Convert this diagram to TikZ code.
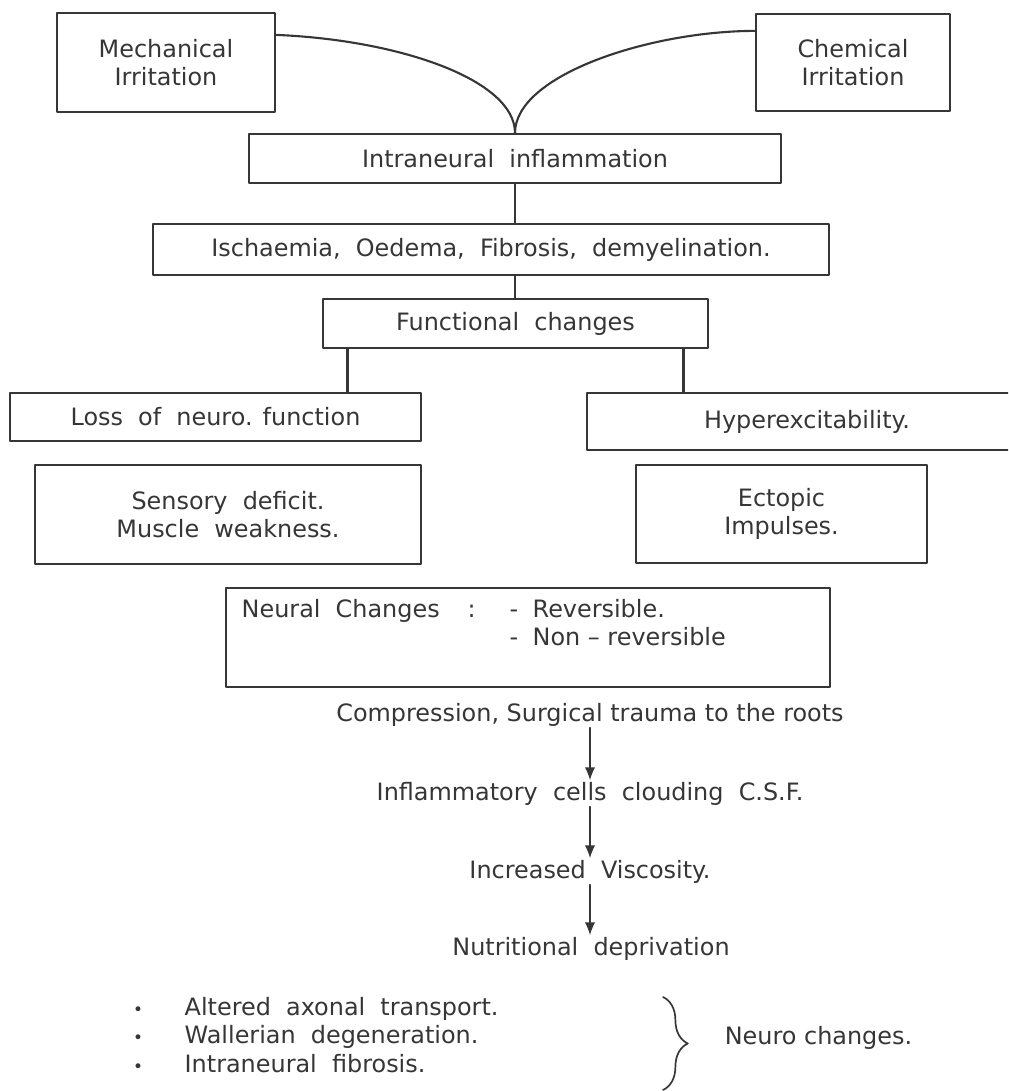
\documentclass[tikz,border=0pt]{standalone}
\usepackage{fontspec}
\setmainfont{DejaVu Sans}
\usetikzlibrary{arrows.meta,decorations.pathreplacing}
\definecolor{ink}{HTML}{363636}
\begin{document}
\begin{tikzpicture}[x=0.025cm, y=-0.025cm, line join=round, line cap=round,
	font=\fontsize{17}{20}\selectfont, text=ink,
	box/.style={draw=ink, line width=1.5pt, align=center, inner sep=0pt},
	txt/.style={inner sep=1pt},
	link/.style={draw=ink, line width=1.5pt},
	arr/.style={draw=ink, line width=1pt, -{Latex[length=3.2mm,width=2.6mm]}}]
	\clip (0,0) rectangle (1008,1091);
	\node[box, minimum width=5.45cm, minimum height=2.475cm] (mech) at (166,62.5) {Mechanical\\Irritation};
	\node[box, minimum width=4.85cm, minimum height=2.425cm] (chem) at (853,62.5) {Chemical\\Irritation};
	\node[box, minimum width=13.3cm, minimum height=1.225cm] (inflam) at (515,158.5) {Intraneural \ inflammation};
	\node[box, minimum width=16.9cm, minimum height=1.275cm] (isch) at (491,249.5) {Ischaemia, \ Oedema, \ Fibrosis, \ demyelination.};
	\node[box, minimum width=9.625cm, minimum height=1.225cm] (func) at (515.5,323.5) {Functional \ changes};
	\node[box, minimum width=10.275cm, minimum height=1.2cm] (loss) at (215.5,417) {Loss \ of \ neuro. function};
	\node[box, minimum width=11cm, minimum height=1.425cm] (hyper) at (807,421.5) {Hyperexcitability.};
	\node[box, minimum width=9.65cm, minimum height=2.475cm] (sens) at (228,514.5) {Sensory \ deficit.\\Muscle \ weakness.};
	\node[box, minimum width=7.275cm, minimum height=2.45cm] (ecto) at (781.5,514) {Ectopic\\Impulses.};
	\node[box, minimum width=15.1cm, minimum height=2.475cm] (neural) at (528,637.5) {};
	% text inside the neural box
	\node[txt, anchor=base west] (nc) at (240,617) {Neural \ Changes};
	\node[txt, anchor=base west] (colon) at (466,617) {:};
	\node[txt, anchor=base west] (d1) at (508,617) {-};
	\node[txt, anchor=base west] (rev) at (531,617) {Reversible.};
	\node[txt, anchor=base west] (d2) at (508,645) {-};
	\node[txt, anchor=base west] (nonrev) at (531,645) {Non -- reversible};
	% chain
	\node[txt, anchor=base] (comp) at (590,721) {Compression, Surgical trauma to the roots};
	\node[txt, anchor=base] (cells) at (590,800) {Inflammatory \ cells \ clouding \ C.S.F.};
	\node[txt, anchor=base] (visc) at (590,878) {Increased \ Viscosity.};
	\node[txt, anchor=base] (nutr) at (591,955) {Nutritional \ deprivation};
	\foreach \t [count=\i] in {Altered \ axonal \ transport., Wallerian \ degeneration., Intraneural \ fibrosis.}{
		\node[txt, anchor=base] (b\i) at (138,{1015+28.5*(\i-1)}) {\fontsize{12}{12}\selectfont •};
		\node[txt, anchor=base west] (item\i) at (183,{1015+28.5*(\i-1)}) {\t};
	}
	\coordinate (bt) at (663,997);
	\coordinate (bb) at (663,1090);
	\node[txt, anchor=base] (neuro) at (818.5,1044) {Neuro changes.};
	% connectors
	\draw[link] ([yshift=0.69cm]mech.east) .. controls (400,40) and (inflam.north|-0,80) .. (inflam.north);
	\draw[link] ([yshift=0.79cm]chem.west) .. controls (650,31) and (inflam.north|-0,75) .. (inflam.north);
	\draw[link] (inflam.south) -- (inflam.south |- isch.north);
	\draw[link] (inflam.south |- isch.south) -- (inflam.south |- func.north);
	\draw[link] ([xshift=-4.2cm]func.south) -- ([xshift=-4.2cm]func.south |- loss.north);
	\draw[link] ([xshift=4.2cm]func.south) -- ([xshift=4.2cm]func.south |- hyper.north);
	\draw[arr] (comp.south -| visc) -- (cells.north -| visc);
	\draw[arr] (cells.south -| visc) -- (visc.north);
	\draw[arr] (visc.south) -- (nutr.north -| visc);
	\draw[draw=ink, line width=1.2pt, decorate, decoration={brace, amplitude=0.62cm}] (bt) -- (bb);
\end{tikzpicture}
\end{document}
